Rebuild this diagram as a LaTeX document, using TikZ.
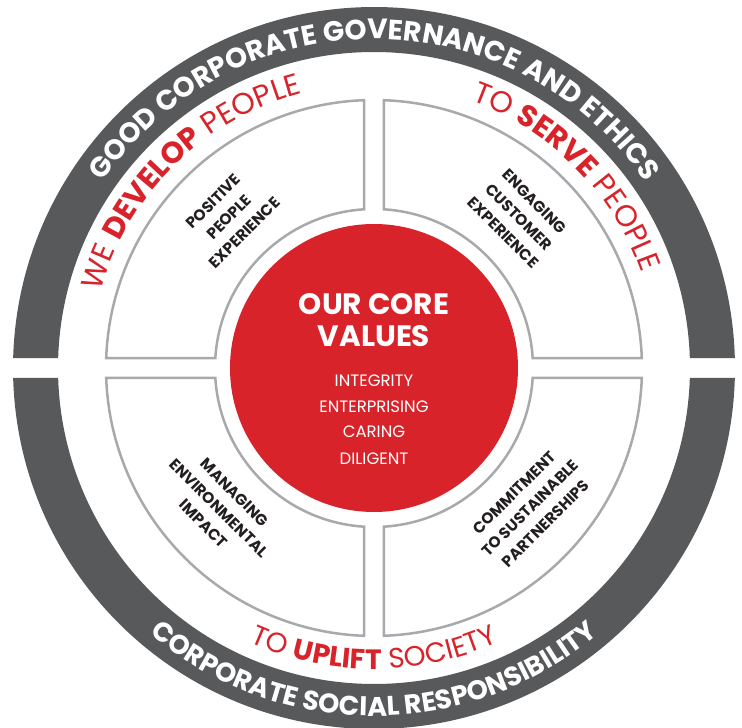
\documentclass[tikz,border=0pt]{standalone}
\usepackage{fontspec}
\setmainfont{Poppins}
\usetikzlibrary{decorations.text}
\definecolor{ringgray}{HTML}{58595B}
\definecolor{corered}{HTML}{D9232A}
\definecolor{linegray}{HTML}{A7A9AC}
\definecolor{txtblack}{HTML}{231F20}
\tikzset{
  quad/.style={draw=linegray, line width=2.5pt, fill=white},
  quadtext/.style={text=txtblack, align=center, font=\bfseries\fontsize{15.5}{22}\selectfont},
  valtext/.style={text=white, font=\fontsize{16.5}{18}\selectfont, anchor=base},
  titletext/.style={text=white, font=\bfseries\fontsize{29.5}{30}\selectfont, anchor=base},
}
\begin{document}
\begin{tikzpicture}[x=1pt,y=1pt]
\useasboundingbox (-374,-360) rectangle (368,368);
% outer ring halves
\foreach \r in {0,180}{
  \fill[ringgray, rotate=\r] ({asin(10/361)}:361) arc[start angle={asin(10/361)}, end angle={180-asin(10/361)}, radius=361]
    -- ({180-asin(10/316)}:316) arc[start angle={180-asin(10/316)}, end angle={asin(10/316)}, radius=316] -- cycle;
}
% quadrants
\foreach \r in {0,90,180,270}{
  \draw[quad, rotate=\r] ({asin(10/268)}:268) arc[start angle={asin(10/268)}, end angle={90-asin(10/268)}, radius=268]
    -- ({90-asin(10/159)}:159) arc[start angle={90-asin(10/159)}, end angle={asin(10/159)}, radius=159] -- cycle;
}
% core circle
\node[circle, fill=corered, minimum size=288pt, inner sep=0pt] (core) at (0,0) {};
\node[titletext] (t1) at (0,53) {OUR CORE};
\node[titletext] (t2) at (0,21) {VALUES};
\node[valtext] (v1) at (0,-19) {INTEGRITY};
\node[valtext] (v2) at (0,-45) {ENTERPRISING};
\node[valtext] (v3) at (0,-70) {CARING};
\node[valtext] (v4) at (0,-96) {DILIGENT};
% quadrant texts
\node[quadtext, rotate=45] (q1) at (-145,151) {POSITIVE\\PEOPLE\\EXPERIENCE};
\node[quadtext, rotate=-45] (q2) at (145,151) {ENGAGING\\CUSTOMER\\EXPERIENCE};
\node[quadtext, rotate=-45] (q3) at (-155,-140) {MANAGING\\ENVIRONMENTAL\\IMPACT};
\node[quadtext, rotate=45] (q4) at (156,-140) {COMMITMENT\\TO SUSTAINABLE\\PARTNERSHIPS};
% ring texts
\path[decorate, decoration={text along path, text align=center,
  text={|\bfseries\fontsize{28}{28}\selectfont\color{white}|GOOD CORPORATE GOVERNANCE AND ETHICS}}]
  (180:329) arc[start angle=180, end angle=0, radius=329];
\path[decorate, decoration={text along path, text align=center,
  text={|\bfseries\fontsize{27}{27}\selectfont\color{white}|CORPORATE SOCIAL RESPONSIBILITY}}]
  (-180:348) arc[start angle=-180, end angle=0, radius=348];
% red texts
\path[decorate, decoration={text along path, text align=center,
  text={|\fontsize{30}{30}\selectfont\color{corered}|WE |\bfseries\fontsize{30}{30}\selectfont\color{corered}|DEVELOP|\mdseries\fontsize{30}{30}\selectfont\color{corered}| PEOPLE}}]
  (179:284) arc[start angle=179, end angle=90, radius=284];
\path[decorate, decoration={text along path, text align=center,
  text={|\fontsize{30}{30}\selectfont\color{corered}|TO |\bfseries\fontsize{30}{30}\selectfont\color{corered}|SERVE|\mdseries\fontsize{30}{30}\selectfont\color{corered}| PEOPLE}}]
  (89.6:284) arc[start angle=89.6, end angle=0, radius=284];
\path[decorate, decoration={text along path, text align=center,
  text={|\fontsize{28}{28}\selectfont\color{corered}|TO |\bfseries\fontsize{28}{28}\selectfont\color{corered}|UPLIFT|\mdseries\fontsize{28}{28}\selectfont\color{corered}| SOCIETY}}]
  (-150:301) arc[start angle=-150, end angle=-30, radius=301];
\end{tikzpicture}
\end{document}
